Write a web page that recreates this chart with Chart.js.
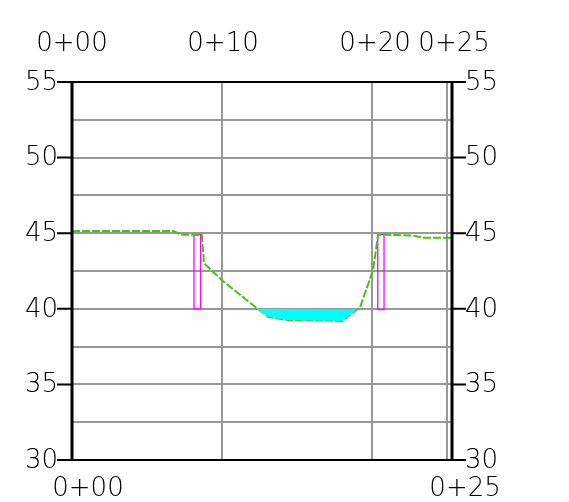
<!DOCTYPE html>
<html>
<head>
<meta charset="utf-8">
<script src="https://cdn.jsdelivr.net/npm/chart.js@4.4.0/dist/chart.umd.min.js"></script>
<style>
  html, body { margin: 0; padding: 0; background: #fff; }
  #wrap { width: 569px; height: 502px; }
</style>
</head>
<body>
<div id="wrap"><canvas id="profileCanvas" width="569" height="502"></canvas></div>
<script>
// Stations along the section (x) and elevations (y)
const stationGrid = [0, 10, 20, 25];
const topLabels = ['0+00', '0+10', '0+20', '0+25'];
const bottomStations = [0, 25];
const bottomLabels = ['0+00', '0+25'];
const elevLabels = [30, 35, 40, 45, 50, 55];

// Ground line
const groundX = [0, 6.75, 7.3, 8.65, 8.8, 10.1, 12.3, 13.1, 14.4, 18.0, 19.0, 19.2, 20.07, 20.4, 22.7, 23.4, 25.33];
const groundY = [45.15, 45.15, 44.9, 44.9, 43.0, 41.8, 40.05, 39.46, 39.26, 39.2, 39.95, 40.1, 42.56, 44.9, 44.85, 44.7, 44.7];

// Water area (closed shape)
const waterX = [12.3, 13.1, 14.4, 18.0, 19.0, 12.3];
const waterY = [40.0, 39.46, 39.26, 39.2, 39.95, 40.0];

// Banks / wall outlines
const leftWallX = [8.13, 8.57, 8.57, 8.13, 8.13];
const leftWallY = [44.9, 44.9, 40.0, 40.0, 44.9];
const rightWallX = [20.38, 20.8, 20.8, 20.38, 20.38];
const rightWallY = [44.9, 44.9, 39.95, 39.95, 44.9];

function pts(xs, ys) {
    return xs.map((x, i) => ({ x: x, y: ys[i] }));
}

const labelFont = '200 26px "DejaVu Sans"';

// Frame, elevation ticks and station labels
const framePlugin = {
    id: 'frame',
    afterDraw(chart) {
        const c = chart.ctx;
        const a = chart.chartArea;
        const xs = chart.scales.x;
        const ys = chart.scales.y;
        c.save();
        c.strokeStyle = '#000';
        c.lineWidth = 2;
        c.beginPath();
        c.moveTo(a.left, a.top); c.lineTo(a.right, a.top);
        c.moveTo(a.left, a.bottom); c.lineTo(a.right, a.bottom);
        c.stroke();
        c.lineWidth = 3;
        c.beginPath();
        c.moveTo(a.left, a.top); c.lineTo(a.left, a.bottom);
        c.moveTo(a.right, a.top); c.lineTo(a.right, a.bottom);
        c.stroke();

        c.fillStyle = '#000';
        c.font = labelFont;
        c.textBaseline = 'middle';
        c.lineWidth = 2;
        elevLabels.forEach(v => {
            const py = ys.getPixelForValue(v);
            c.beginPath();
            c.moveTo(a.left - 15, py); c.lineTo(a.left, py);
            c.moveTo(a.right, py); c.lineTo(a.right + 14, py);
            c.stroke();
            c.textAlign = 'right';
            c.fillText(String(v), a.left - 14, py + 1);
            c.textAlign = 'left';
            c.fillText(String(v), a.right + 13, py + 1);
        });

        c.textAlign = 'center';
        const topShift = [0, 1, 3, 7];
        stationGrid.forEach((v, i) => {
            c.fillText(topLabels[i], xs.getPixelForValue(v) + topShift[i], 44);
        });
        const botShift = [16, 18];
        bottomStations.forEach((v, i) => {
            c.fillText(bottomLabels[i], xs.getPixelForValue(v) + botShift[i], 489);
        });
        c.restore();
    }
};

new Chart(document.getElementById('profileCanvas').getContext('2d'), {
    type: 'line',
    data: {
        datasets: [
            {
                label: 'water',
                data: pts(waterX, waterY),
                borderWidth: 0,
                borderColor: 'rgba(0,0,0,0)',
                backgroundColor: '#00ffff',
                fill: 'shape',
                pointRadius: 0,
                tension: 0
            },
            {
                label: 'ground',
                data: pts(groundX, groundY),
                borderColor: '#44c411',
                borderWidth: 2,
                borderDash: [8, 2],
                fill: false,
                pointRadius: 0,
                tension: 0
            },
            {
                label: 'left wall',
                data: pts(leftWallX, leftWallY),
                borderColor: '#ff00ff',
                borderWidth: 1.3,
                fill: false,
                pointRadius: 0,
                tension: 0
            },
            {
                label: 'right wall',
                data: pts(rightWallX, rightWallY),
                borderColor: '#ff00ff',
                borderWidth: 1.3,
                fill: false,
                pointRadius: 0,
                tension: 0
            }
        ]
    },
    options: {
        responsive: false,
        animation: false,
        layout: { padding: { left: 72, top: 82, right: 117, bottom: 42 } },
        plugins: { legend: { display: false }, tooltip: { enabled: false } },
        scales: {
            x: {
                type: 'linear',
                min: 0,
                max: 25.33,
                afterBuildTicks: s => { s.ticks = stationGrid.map(v => ({ value: v })); },
                ticks: { display: false },
                grid: { color: '#999', lineWidth: 2, drawTicks: false },
                border: { display: false }
            },
            y: {
                type: 'linear',
                min: 30,
                max: 55,
                ticks: { display: false, stepSize: 2.5 },
                grid: { color: '#999', lineWidth: 2, drawTicks: false },
                border: { display: false }
            }
        }
    },
    plugins: [framePlugin]
});
</script>
</body>
</html>
